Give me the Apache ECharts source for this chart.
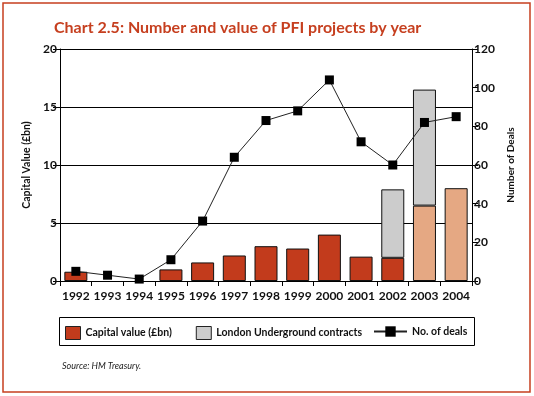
<!DOCTYPE html>
<html>
<head>
<meta charset="utf-8">
<script src="https://cdn.jsdelivr.net/npm/echarts@6/dist/echarts.min.js"></script>
<style>
    html, body { margin: 0; padding: 0; background: #fff; }
    #main { width: 534px; height: 396px; }
</style>
</head>
<body>
<div id="main"></div>
<script>
// data
var years = ['1992', '1993', '1994', '1995', '1996', '1997', '1998', '1999', '2000', '2001', '2002', '2003', '2004'];
var capitalValue = [0.8, null, null, 1.0, 1.6, 2.2, 3.0, 2.8, 4.0, 2.1, 2.0, 6.5, 8.0];
var undergroundValue = [null, null, null, null, null, null, null, null, null, null, 5.9, 10.0, null];
var deals = [5, 3, 1, 11, 31, 64, 83, 88, 104, 72, 60, 82, 85];
var leftTicks = { min: 0, max: 20, interval: 5 };
var rightTicks = { min: 0, max: 120, interval: 20 };
var projectedFrom = '2003'; // lighter bars from here on

var red = '#c23b1c';
var peach = '#e5a883';
var grey = '#cccccc';
var fontFamily = 'Lato, "DejaVu Sans", sans-serif';

var myChart = echarts.init(document.getElementById('main'));

// capital bars, lighter colour for the later years
var capitalData = capitalValue.map(function (v, i) {
    return {
        value: v,
        itemStyle: { color: years[i] >= projectedFrom ? peach : red }
    };
});

var axisText = {
    color: '#111',
    fontFamily: fontFamily,
    fontWeight: 'bold',
    fontSize: 12
};

var legendText = { color: '#111', fontSize: 10.5, fontWeight: 'bold', fontFamily: fontFamily };

var option = {
    animation: false,
    textStyle: { fontFamily: fontFamily },
    title: {
        text: 'Chart 2.5: Number and value of PFI projects by year',
        left: 49,
        top: 15,
        textStyle: {
            color: '#c63f1f',
            fontSize: 16,
            fontWeight: 'bold',
            fontFamily: fontFamily
        }
    },
    grid: {
        left: 60,
        right: 62,
        top: 49,
        bottom: 115
    },
    legend: [{
        left: 60,
        top: 321,
        icon: 'rect',
        itemWidth: 15,
        itemHeight: 13,
        itemGap: 24,
        data: ['Capital value (£bn)', 'London Underground contracts'],
        textStyle: legendText,
        itemStyle: { borderColor: '#222', borderWidth: 1 }
    }, {
        left: 368,
        top: 321,
        itemWidth: 33,
        itemHeight: 13,
        data: ['No. of deals'],
        textStyle: legendText
    }],
    xAxis: {
        type: 'category',
        data: years,
        axisLine: { lineStyle: { color: '#000', width: 1 } },
        axisTick: { show: true, length: 5, lineStyle: { color: '#000' } },
        axisLabel: Object.assign({ margin: 9, interval: 0 }, axisText)
    },
    yAxis: [{
        type: 'value',
        position: 'left',
        min: leftTicks.min,
        max: leftTicks.max,
        interval: leftTicks.interval,
        name: 'Capital Value (£bn)',
        nameLocation: 'middle',
        nameRotate: 90,
        nameGap: 22,
        nameTextStyle: { color: '#111', fontSize: 10.5, fontWeight: 'bold', fontFamily: fontFamily },
        axisLine: { show: true, lineStyle: { color: '#000', width: 1 } },
        axisTick: { show: true, length: 7, lineStyle: { color: '#000' } },
        axisLabel: Object.assign({ margin: 3 }, axisText),
        splitLine: { show: true, lineStyle: { color: '#000', width: 1 } }
    }, {
        type: 'value',
        position: 'right',
        min: rightTicks.min,
        max: rightTicks.max,
        interval: rightTicks.interval,
        name: 'Number of Deals',
        nameLocation: 'middle',
        nameRotate: 90,
        nameGap: 27,
        nameTextStyle: { color: '#111', fontSize: 10, fontWeight: 'bold', fontFamily: fontFamily },
        axisLine: { show: true, lineStyle: { color: '#000', width: 1 } },
        axisTick: { show: true, length: 6, lineStyle: { color: '#000' } },
        axisLabel: Object.assign({ margin: 2 }, axisText),
        splitLine: { show: false }
    }],
    series: [{
        name: 'Capital value (£bn)',
        type: 'bar',
        stack: 'value',
        barWidth: 23,
        itemStyle: { color: red, borderColor: '#111', borderWidth: 1 },
        data: capitalData
    }, {
        name: 'London Underground contracts',
        type: 'bar',
        stack: 'value',
        barWidth: 23,
        itemStyle: { color: grey, borderColor: '#111', borderWidth: 1 },
        data: undergroundValue
    }, {
        name: 'No. of deals',
        type: 'line',
        yAxisIndex: 1,
        symbol: 'rect',
        symbolSize: 9,
        itemStyle: { color: '#000' },
        lineStyle: { color: '#222', width: 1 },
        data: deals
    }],
    graphic: [{
        // outer frame
        type: 'rect',
        shape: { x: 3, y: 3, width: 527, height: 389 },
        style: { fill: 'none', stroke: '#c63f1f', lineWidth: 1.5 },
        silent: true
    }, {
        // legend box
        type: 'rect',
        shape: { x: 59.5, y: 317.5, width: 415, height: 28 },
        style: { fill: 'none', stroke: '#000', lineWidth: 1 },
        silent: true
    }, {
        type: 'text',
        left: 62,
        top: 362,
        style: {
            text: 'Source: HM Treasury.',
            fill: '#222',
            font: 'italic 9px ' + fontFamily
        }
    }]
};

myChart.setOption(option);
</script>
</body>
</html>
